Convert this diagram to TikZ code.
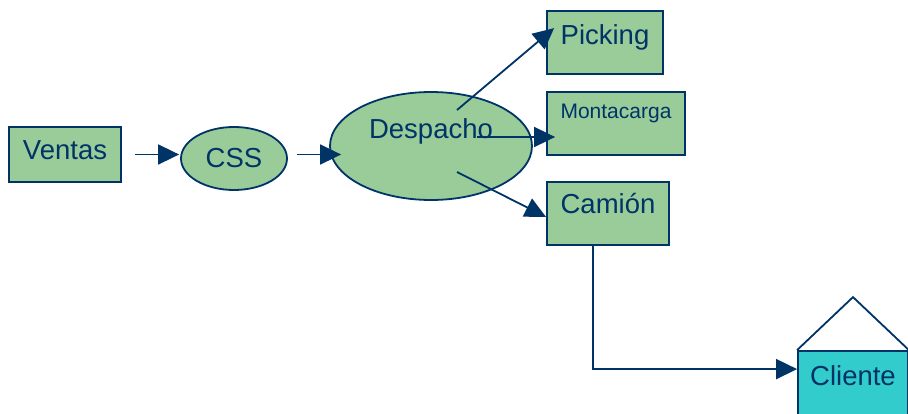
\documentclass[tikz,border=0pt]{standalone}
\usepackage{fontspec}
\setmainfont{Liberation Sans}
\usetikzlibrary{shapes.geometric,arrows.meta,calc}
\definecolor{navy}{HTML}{003366}
\definecolor{leaf}{HTML}{99CC99}
\definecolor{aqua}{HTML}{33CCCC}

\begin{document}
\begin{tikzpicture}[x=1pt, y=-1pt,
    box/.style={draw=navy, fill=leaf, rectangle, line width=1.8pt, inner sep=0pt, text=navy, text height=20pt, font=\fontsize{27.5}{30}\selectfont},
    oval/.style={box, ellipse},
    arr/.style={-{Triangle[length=21pt,width=20pt]}, draw=navy, line width=1.8pt}]
    \clip (0,0) rectangle (908,414);

    \node[box, text depth=9pt, minimum width=112pt, minimum height=55pt] (ventas) at (65,154.5) {Ventas};
    \node[oval, text depth=2pt, minimum width=106pt, minimum height=63pt] (css) at (234,158.5) {CSS};
    \node[oval, text depth=34pt, minimum width=202pt, minimum height=108pt] (despacho) at (431,146) {Despacho};

    \node[box, text depth=16pt, minimum width=116pt, minimum height=63pt] (picking) at (605,42.5) {Picking};
    \node[box, text height=15pt, text depth=25pt, font=\fontsize{21}{24}\selectfont, minimum width=138pt, minimum height=63pt] (montacarga) at (616,123.5) {Montacarga};
    \node[box, text depth=19pt, minimum width=122pt, minimum height=63pt] (camion) at (608,213.5) {Camión};
    \node[box, fill=aqua, text depth=30pt, minimum width=110pt, minimum height=79pt] (cliente) at (853,390.5) {Cliente};

    % techo del cliente
    \draw[navy, line width=1.8pt] (cliente.north west) -- ($(cliente.north)+(0,-53)$) -- (cliente.north east);

    \draw[arr] ([xshift=13pt]ventas.east) -- ([xshift=-1pt]css.west |- ventas.east);
    \draw[arr] ([xshift=9pt]css.east |- ventas.east) -- ([xshift=12pt]despacho.west |- ventas.east);

    \draw[arr] ($(despacho.center)+(26,-36)$) -- ($(picking.north west)+(8,18)$);
    \draw[arr] ($(despacho.center)+(46,-9)$) -- ($(montacarga.west)+(9,13.5)$);
    \draw[arr] ($(despacho.center)+(26,26)$) -- ($(camion.west)+(0,3.5)$);

    \draw[arr] ([xshift=-15pt]camion.south) |- ($(cliente.north west)+(0,19)$);
\end{tikzpicture}
\end{document}
